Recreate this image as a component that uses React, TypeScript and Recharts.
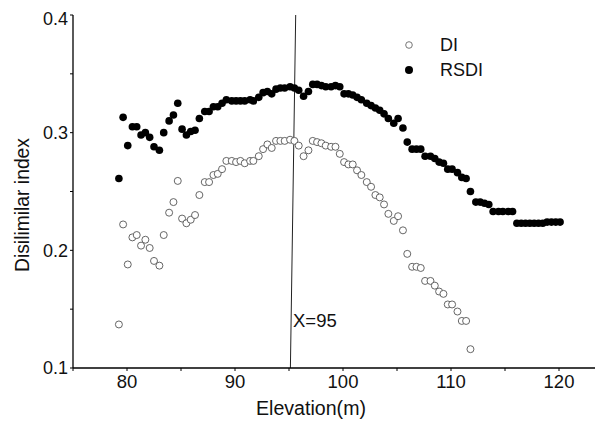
import React from 'react';
import { ScatterChart, Scatter, XAxis, YAxis, ReferenceLine, ReferenceDot } from 'recharts';

const elevation = [
  79.25, 79.64, 80.07, 80.5, 80.9, 81.3, 81.7, 82.1, 82.5, 83.0,
  83.4, 83.9, 84.3, 84.7, 85.1, 85.5, 85.9, 86.3, 86.7, 87.2,
  87.6, 88.0, 88.4, 88.8, 89.2, 89.7, 90.1, 90.5, 90.9, 91.4,
  91.7, 92.2, 92.6, 93.0, 93.4, 93.8, 94.2, 94.6, 95.1, 95.5,
  95.9, 96.35, 96.8, 97.2, 97.6, 98.0, 98.4, 98.9, 99.3, 99.7,
  100.1, 100.5, 100.9, 101.3, 101.7, 102.2, 102.6, 103.0, 103.4, 103.8,
  104.2, 104.7, 105.1, 105.55, 105.95, 106.4, 106.8, 107.2, 107.6, 108.1,
  108.5, 108.9, 109.3, 109.7, 110.1, 110.6, 111.0, 111.4, 111.8, 112.3,
  112.7, 113.1, 113.5, 113.9, 114.4, 114.8, 115.3, 115.7, 116.1, 116.5,
  116.9, 117.3, 117.7, 118.1, 118.5, 118.9, 119.3, 119.7, 120.1,
];

const diValues = [
  0.137, 0.222, 0.188, 0.211, 0.213, 0.204, 0.209, 0.202, 0.191, 0.187,
  0.213, 0.232, 0.241, 0.259, 0.227, 0.223, 0.226, 0.23, 0.247, 0.258,
  0.258, 0.264, 0.265, 0.269, 0.276, 0.276, 0.275, 0.276, 0.274, 0.276,
  0.276, 0.28, 0.286, 0.29, 0.287, 0.293, 0.293, 0.293, 0.294, 0.293,
  0.289, 0.28, 0.285, 0.293, 0.292, 0.291, 0.289, 0.288, 0.288, 0.282,
  0.275, 0.273, 0.273, 0.268, 0.264, 0.258, 0.254, 0.247, 0.245, 0.239,
  0.231, 0.225, 0.229, 0.217, 0.197, 0.186, 0.186, 0.185, 0.174, 0.174,
  0.17, 0.165, 0.163, 0.154, 0.154, 0.148, 0.14, 0.14, 0.116,
];

const rsdiValues = [
  0.261, 0.313, 0.289, 0.305, 0.305, 0.298, 0.3, 0.296, 0.288, 0.285,
  0.3, 0.31, 0.315, 0.325, 0.303, 0.298, 0.301, 0.302, 0.312, 0.318,
  0.318, 0.322, 0.322, 0.325, 0.328, 0.327, 0.327, 0.327, 0.327, 0.328,
  0.327, 0.33, 0.334, 0.335, 0.333, 0.337, 0.338, 0.338, 0.339, 0.338,
  0.336, 0.331, 0.335, 0.341, 0.341, 0.34, 0.339, 0.339, 0.34, 0.339,
  0.333, 0.333, 0.332, 0.33, 0.328, 0.325, 0.323, 0.321, 0.319, 0.316,
  0.312, 0.308, 0.312, 0.304, 0.292, 0.286, 0.286, 0.286, 0.28, 0.28,
  0.278, 0.275, 0.274, 0.269, 0.269, 0.266, 0.262, 0.261, 0.25, 0.241,
  0.241, 0.24, 0.239, 0.233, 0.233, 0.233, 0.233, 0.233, 0.223, 0.223,
  0.223, 0.223, 0.223, 0.223, 0.223, 0.224, 0.224, 0.224, 0.224,
];

const xTicks = [75, 80, 85, 90, 95, 100, 105, 110, 115, 120, 125];
const yTicks = [0.1, 0.15, 0.2, 0.25, 0.3, 0.35, 0.4];

const seriesNames = ['DI', 'RSDI'];
const xTitle = 'Elevation(m)';
const yTitle = 'Disilimilar index';
const refLineLabel = 'X=95';
const refLineSegment = [
  { x: 95.62, y: 0.4 },
  { x: 95.13, y: 0.1 },
];
const refLabelPoint = { x: 95.37, y: 0.1348 };

const FONT = '"Liberation Sans", Arial, Helvetica, sans-serif';

const diData = diValues.map((v, i) => ({ x: elevation[i], y: v }));
const rsdiData = rsdiValues.map((v, i) => ({ x: elevation[i], y: v }));

const OpenDot = (p: any) => (
  <circle cx={p.cx} cy={p.cy} r={3.5} fill="#fff" stroke="#555" strokeWidth={0.9} />
);
const FilledDot = (p: any) => <circle cx={p.cx} cy={p.cy} r={3.8} fill="#000" />;

const XTitle = () => (
  <text
    x={303}
    y={407}
    textAnchor="middle"
    fontSize={19.5}
    textLength={110}
    lengthAdjust="spacingAndGlyphs"
    fontFamily={FONT}
    fill="#111"
  >
    {xTitle}
  </text>
);

const YTitle = () => (
  <text
    x={14}
    y={197}
    transform="rotate(-90, 14, 197)"
    textAnchor="middle"
    dominantBaseline="central"
    fontSize={19.5}
    textLength={134}
    lengthAdjust="spacingAndGlyphs"
    fontFamily={FONT}
    fill="#111"
  >
    {yTitle}
  </text>
);

const RefLabel = (p: any) => (
  <text x={p.cx} y={p.cy} fontSize={18.5} fontFamily={FONT} fill="#111">
    {refLineLabel}
  </text>
);

export default function App() {
  return (
    <div style={{ position: 'relative', width: 595, height: 413, overflow: 'hidden' }}>
      <ScatterChart width={610} height={413} margin={{ top: 7, right: 5, bottom: 0, left: 0 }}>
        <XAxis
          type="number"
          dataKey="x"
          domain={[75, 125]}
          ticks={xTicks}
          tickFormatter={(v: number) => (v % 10 === 0 ? String(v) : '')}
          tickSize={3}
          tickMargin={4}
          height={53}
          axisLine={{ stroke: '#000', strokeWidth: 1.3 }}
          tickLine={{ stroke: '#000', strokeWidth: 1 }}
          tick={{ fill: '#111', fontSize: 18.5, fontFamily: FONT }}
          label={<XTitle />}
        />
        <YAxis
          type="number"
          dataKey="y"
          domain={[0.1, 0.4]}
          ticks={yTicks}
          tickFormatter={(v: number) =>
            Math.abs(v * 10 - Math.round(v * 10)) < 1e-6 ? v.toFixed(1) : ''
          }
          tickSize={3}
          tickMargin={2}
          width={65}
          axisLine={{ stroke: '#000', strokeWidth: 1.3 }}
          tickLine={{ stroke: '#000', strokeWidth: 1 }}
          tick={{ fill: '#111', fontSize: 18, fontFamily: FONT }}
          label={<YTitle />}
        />
        <ReferenceLine segment={refLineSegment} stroke="#222" strokeWidth={1} />
        <ReferenceDot x={refLabelPoint.x} y={refLabelPoint.y} r={0} shape={RefLabel} />
        <Scatter name={seriesNames[0]} data={diData} shape={OpenDot} isAnimationActive={false} />
        <Scatter name={seriesNames[1]} data={rsdiData} shape={FilledDot} isAnimationActive={false} />
      </ScatterChart>
      <svg
        width={140}
        height={60}
        style={{ position: 'absolute', left: 390, top: 22 }}
      >
        <circle cx={11} cy={15} r={3.3} fill="#fff" stroke="#666" strokeWidth={0.9} />
        <text x={42} y={15} dominantBaseline="central" fontSize={18} fontFamily={FONT} fill="#111">
          {seriesNames[0]}
        </text>
        <circle cx={11} cy={40} r={4} fill="#000" />
        <text x={42} y={40} dominantBaseline="central" fontSize={18} fontFamily={FONT} fill="#111">
          {seriesNames[1]}
        </text>
      </svg>
    </div>
  );
}
